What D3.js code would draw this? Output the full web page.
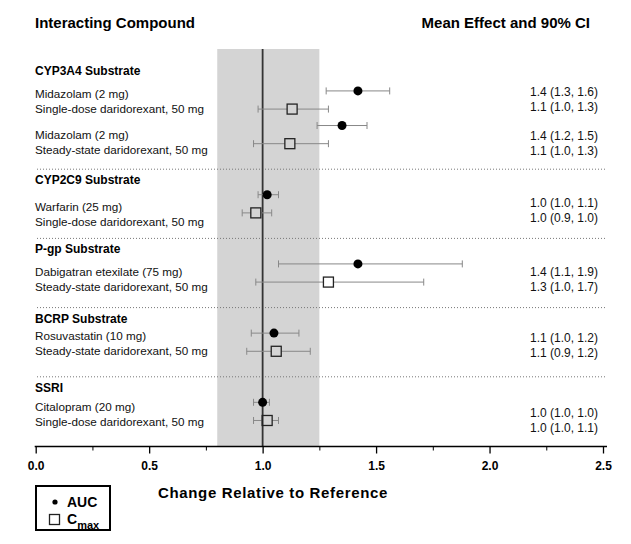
<!DOCTYPE html>
<html>
<head>
<meta charset="utf-8">
<script src="https://cdn.jsdelivr.net/npm/d3@7"></script>
<style>
  html, body { margin: 0; padding: 0; background: #fff; }
  svg { display: block; font-family: "Liberation Sans", Arial, sans-serif; }
</style>
</head>
<body>
<svg id="chart" width="631" height="544"></svg>
<script>
// ---------------- DATA ----------------
const groups = ["CYP3A4 Substrate", "CYP2C9 Substrate", "P-gp Substrate", "BCRP Substrate", "SSRI"];
const compounds = ["Midazolam (2 mg)", "Midazolam (2 mg)", "Warfarin (25 mg)", "Dabigatran etexilate (75 mg)", "Rosuvastatin (10 mg)", "Citalopram (20 mg)"];
const regimens = ["Single-dose daridorexant, 50 mg", "Steady-state daridorexant, 50 mg", "Single-dose daridorexant, 50 mg", "Steady-state daridorexant, 50 mg", "Steady-state daridorexant, 50 mg", "Single-dose daridorexant, 50 mg"];
const pairGroup = [0, 0, 1, 2, 3, 4];
const aucMean = [1.42, 1.35, 1.02, 1.42, 1.05, 1.00];
const aucLo   = [1.28, 1.24, 0.98, 1.07, 0.95, 0.96];
const aucHi   = [1.56, 1.46, 1.07, 1.88, 1.16, 1.03];
const cmaxMean = [1.13, 1.12, 0.97, 1.29, 1.06, 1.02];
const cmaxLo   = [0.98, 0.96, 0.91, 0.97, 0.93, 0.96];
const cmaxHi   = [1.29, 1.29, 1.04, 1.71, 1.21, 1.07];
const aucText  = ["1.4 (1.3, 1.6)", "1.4 (1.2, 1.5)", "1.0 (1.0, 1.1)", "1.4 (1.1, 1.9)", "1.1 (1.0, 1.2)", "1.0 (1.0, 1.0)"];
const cmaxText = ["1.1 (1.0, 1.3)", "1.1 (1.0, 1.3)", "1.0 (0.9, 1.0)", "1.3 (1.0, 1.7)", "1.1 (0.9, 1.2)", "1.0 (1.0, 1.1)"];
const tickValues = [0, 0.5, 1.0, 1.5, 2.0, 2.5];
const tickLabels = ["0.0", "0.5", "1.0", "1.5", "2.0", "2.5"];
const minorTicks = [0.25, 0.75, 1.25, 1.75, 2.25];
const refBand = [0.8, 1.25];
const refLine = 1.0;

// ---------------- LAYOUT ----------------
const pairSlot = [0, 4, 12, 20, 28, 36];
const headerSlot = [-3.35, 9.25, 17.2, 25.25, 33.25];
const separatorSlot = [8, 16, 24, 32];
const labelNudge = [1.5, 7.4, 10.4, 6.2, 0.8, 3.1];
const ciNudge = [-0.8, 8.8, 5.9, 6.2, 2.8, 8.8];

const svg = d3.select("#chart");
const x = d3.scaleLinear().domain([0, 2.5]).range([35.7, 603]);
const y = d3.scaleLinear().domain([0, 1]).range([100, 108.65]);
const axisY = 446.5;
const bandTop = 49;
const fs = 11.7;

// header texts
svg.append("text").attr("x", 35).attr("y", 27.5)
  .attr("font-size", 15).attr("font-weight", "bold").text("Interacting Compound");
svg.append("text").attr("x", 590).attr("y", 27.5).attr("text-anchor", "end")
  .attr("font-size", 15).attr("font-weight", "bold").text("Mean Effect and 90% CI");

// reference band
svg.append("rect")
  .attr("x", x(refBand[0])).attr("y", bandTop)
  .attr("width", x(refBand[1]) - x(refBand[0])).attr("height", axisY - bandTop)
  .attr("fill", "#d4d4d4");

// separators
svg.selectAll("line.sep").data(separatorSlot).join("line")
  .attr("class", "sep")
  .attr("x1", 37).attr("x2", 607)
  .attr("y1", d => y(d)).attr("y2", d => y(d))
  .attr("stroke", "#777").attr("stroke-width", 1).attr("stroke-dasharray", "1,2");

// reference line
svg.append("line")
  .attr("x1", x(refLine)).attr("x2", x(refLine))
  .attr("y1", bandTop).attr("y2", axisY)
  .attr("stroke", "#333").attr("stroke-width", 1.8);

// group headers
svg.selectAll("text.grp").data(groups).join("text")
  .attr("class", "grp")
  .attr("x", 35).attr("y", (d, i) => y(headerSlot[i])).attr("dy", "0.36em")
  .attr("font-size", 12).attr("font-weight", "bold").text(d => d);

const rows = compounds.map((c, i) => ({
  i, c, r: regimens[i],
  auc: [aucLo[i], aucMean[i], aucHi[i]],
  cmax: [cmaxLo[i], cmaxMean[i], cmaxHi[i]],
  yc: y(pairSlot[i])
}));

// row labels
const lab = svg.append("g");
rows.forEach(d => {
  lab.append("text").attr("x", 35).attr("y", d.yc + labelNudge[d.i] - 7.5).attr("dy", "0.36em")
    .attr("font-size", fs).attr("fill", "#111").text(d.c);
  lab.append("text").attr("x", 35).attr("y", d.yc + labelNudge[d.i] + 7.5).attr("dy", "0.36em")
    .attr("font-size", fs).attr("fill", "#111").text(d.r);
  lab.append("text").attr("x", 530).attr("y", d.yc + ciNudge[d.i] - 7.5).attr("dy", "0.36em")
    .attr("font-size", 12).attr("fill", "#111").text(aucText[d.i]);
  lab.append("text").attr("x", 530).attr("y", d.yc + ciNudge[d.i] + 7.5).attr("dy", "0.36em")
    .attr("font-size", 12).attr("fill", "#111").text(cmaxText[d.i]);
});

// whiskers
const off = 1.05;
const wcol = "#888";
const capH = 3.5;
const g = svg.append("g");
function whisker(lo, mid, hi, yy, gap) {
  g.append("line").attr("x1", x(lo)).attr("x2", x(mid) - gap).attr("y1", yy).attr("y2", yy)
    .attr("stroke", wcol).attr("stroke-width", 1);
  g.append("line").attr("x1", x(mid) + gap).attr("x2", x(hi)).attr("y1", yy).attr("y2", yy)
    .attr("stroke", wcol).attr("stroke-width", 1);
  [lo, hi].forEach(v => g.append("line").attr("x1", x(v)).attr("x2", x(v))
    .attr("y1", yy - capH).attr("y2", yy + capH).attr("stroke", wcol).attr("stroke-width", 1));
}
rows.forEach(d => {
  const ya = y(pairSlot[d.i] - off), yb = y(pairSlot[d.i] + off);
  whisker(d.auc[0], d.auc[1], d.auc[2], ya, 0);
  whisker(d.cmax[0], d.cmax[1], d.cmax[2], yb, 5);
  g.append("circle").attr("cx", x(d.auc[1])).attr("cy", ya).attr("r", 4.5).attr("fill", "#000");
  g.append("rect").attr("x", x(d.cmax[1]) - 5).attr("y", yb - 5).attr("width", 10).attr("height", 10)
    .attr("fill", "none").attr("stroke", "#222").attr("stroke-width", 1.3);
});

// axis
const ax = svg.append("g").attr("transform", `translate(0,${axisY})`);
ax.call(d3.axisBottom(x).tickValues(tickValues).tickFormat((d, i) => tickLabels[i]).tickSize(7).tickPadding(8));
ax.select(".domain").remove();
ax.selectAll(".tick line").attr("stroke", "#000").attr("stroke-width", 1.3);
ax.selectAll(".tick text").attr("font-size", 12).attr("font-weight", "bold")
  .attr("font-family", "Liberation Sans, Arial, sans-serif").attr("fill", "#000");
const axm = svg.append("g").attr("transform", `translate(0,${axisY})`);
axm.call(d3.axisBottom(x).tickValues(minorTicks).tickFormat("").tickSize(4));
axm.select(".domain").remove();
axm.selectAll(".tick line").attr("stroke", "#000").attr("stroke-width", 1);
svg.append("line").attr("x1", x(0) - 1).attr("x2", x(2.5) + 4).attr("y1", axisY).attr("y2", axisY)
  .attr("stroke", "#000").attr("stroke-width", 1.6);

// axis title
svg.append("text").attr("x", 158).attr("y", 498)
  .attr("font-size", 15).attr("font-weight", "bold").attr("letter-spacing", 0.65)
  .text("Change Relative to Reference");

// legend
const lg = svg.append("g");
lg.append("rect").attr("x", 36).attr("y", 486).attr("width", 74).attr("height", 44)
  .attr("fill", "#fff").attr("stroke", "#000").attr("stroke-width", 2);
lg.append("circle").attr("cx", 55).attr("cy", 502).attr("r", 2.6).attr("fill", "#000");
lg.append("text").attr("x", 67).attr("y", 507).attr("font-size", 14).attr("font-weight", "bold").text("AUC");
lg.append("rect").attr("x", 49.5).attr("y", 514.5).attr("width", 10).attr("height", 10)
  .attr("fill", "none").attr("stroke", "#222").attr("stroke-width", 1.3);
const ct = lg.append("text").attr("x", 67).attr("y", 523.5).attr("font-size", 14).attr("font-weight", "bold");
ct.append("tspan").text("C");
ct.append("tspan").attr("font-size", 11).attr("dy", 5).text("max");
</script>
</body>
</html>
